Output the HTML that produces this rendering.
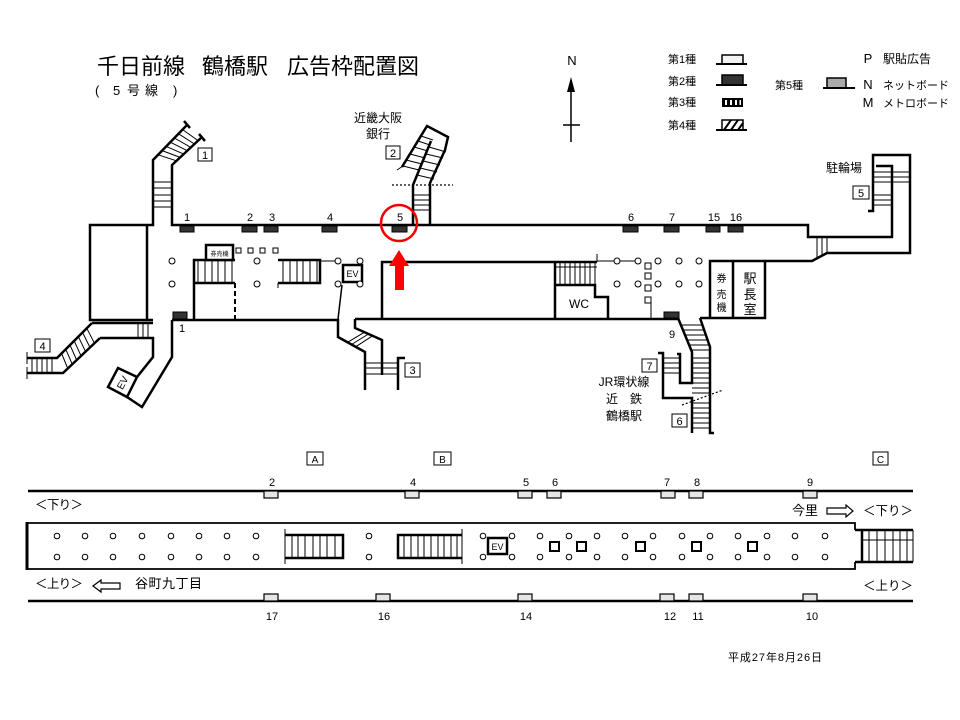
<!DOCTYPE html>
<html><head><meta charset="utf-8"><style>
html,body{margin:0;padding:0;background:#fff;}
svg{display:block;}
text{font-family:"Liberation Sans","Noto Sans CJK JP",sans-serif;fill:#000;}
.w{stroke:#000;stroke-width:2.5;fill:none;}
.t{stroke:#000;stroke-width:1;fill:none;}
.c{stroke:#000;stroke-width:1;fill:#fff;}
.bx{stroke:#000;stroke-width:1;fill:#fff;}
.ad{fill:#333;stroke:#000;stroke-width:1;}
.la{fill:#e6e6e6;stroke:#000;stroke-width:1.2;}
</style></head><body>
<svg width="960" height="720" viewBox="0 0 960 720" xmlns="http://www.w3.org/2000/svg">
<!-- Title -->
<text x="97" y="74" font-size="22">千日前線</text>
<text x="202" y="74" font-size="22">鶴橋駅</text>
<text x="287" y="74" font-size="22">広告枠配置図</text>
<text x="95" y="95" font-size="13">(</text>
<text x="113" y="95" font-size="13">5</text>
<text x="127" y="95" font-size="13">号</text>
<text x="145" y="95" font-size="13">線</text>
<text x="173" y="95" font-size="13">)</text>

<!-- North arrow -->
<text x="572" y="65" font-size="13" text-anchor="middle">N</text>
<line x1="571" y1="88" x2="571" y2="142" stroke="#000" stroke-width="1.5"/>
<polygon points="571,77 567,92 575,92" fill="#000"/>
<line x1="563" y1="125" x2="580" y2="125" stroke="#000" stroke-width="1.5"/>

<!-- Legend -->
<text x="668" y="63" font-size="11">第1種</text>
<rect x="722" y="55" width="21" height="9" fill="#f2f2f2" stroke="#000" stroke-width="1.5"/>
<line x1="716" y1="64" x2="747" y2="64" stroke="#000" stroke-width="2"/>
<text x="668" y="85" font-size="11">第2種</text>
<rect x="722" y="75" width="21" height="10" fill="#333" stroke="#000" stroke-width="1.5"/>
<line x1="716" y1="85" x2="747" y2="85" stroke="#000" stroke-width="2"/>
<text x="668" y="106" font-size="11">第3種</text>
<rect x="722" y="98" width="21" height="9" fill="#000"/>
<rect x="725" y="100" width="2" height="5" fill="#fff"/>
<rect x="730" y="100" width="2" height="5" fill="#fff"/>
<rect x="735" y="100" width="2" height="5" fill="#fff"/>
<rect x="739.5" y="100" width="1.5" height="5" fill="#fff"/>
<text x="668" y="129" font-size="11">第4種</text>
<rect x="722" y="120" width="21" height="10" fill="#fff" stroke="#000" stroke-width="1.5"/>
<path d="M724,130 L731,120 M731,130 L738,120 M738,130 L743,123" stroke="#000" stroke-width="2"/>
<line x1="716" y1="130" x2="747" y2="130" stroke="#000" stroke-width="2"/>
<text x="775" y="89" font-size="11">第5種</text>
<rect x="827" y="78" width="19" height="10" fill="#aaa" stroke="#000" stroke-width="1.5"/>
<line x1="823" y1="88" x2="855" y2="88" stroke="#000" stroke-width="2"/>
<text x="868" y="63" font-size="13" text-anchor="middle">P</text>
<text x="883" y="63" font-size="12">駅貼広告</text>
<text x="868" y="89" font-size="13" text-anchor="middle">N</text>
<text x="883" y="89" font-size="11">ネットボード</text>
<text x="868" y="107" font-size="13" text-anchor="middle">M</text>
<text x="883" y="107" font-size="11">メトロボード</text>

<!-- Concourse walls -->
<path class="w" d="M187,125 L153,160 V225 H90 V320 H153"/>
<path class="w" d="M147,225 V320"/>
<path class="w" d="M92,323 H153"/>
<path class="w" d="M202,137 L172,165 V225 H808 V237 H892 V166 H876"/>
<path class="w" d="M868,211 H873 V155 H910 V253 H827 L812,261 H710 V318"/>
<path class="w" d="M184,121 L190,128 M199,134 L205,141"/>
<!-- stair 1 rungs -->
<path class="t" d="M158.1,154.8 L176.5,160.8 M162.2,150.6 L180.1,157.4 M166.3,146.4 L183.7,154.1 M170.3,142.2 L187.3,150.7 M174.4,138 L190.9,147.4 M178.5,133.8 L194.5,144 M182.6,129.6 L198.1,140.6"/>
<path class="t" d="M153,182 H172 M153,188 H172 M153,195 H172 M153,201 H172 M153,207 H172"/>

<!-- stair 4 -->
<path class="w" d="M92,323 L57,358 H27"/>
<path class="w" d="M100,338 H153 V357 L137,377"/>
<path class="w" d="M100,338 L63,373 H27"/>
<path class="t" d="M27,352 V364 M27,367 V379" stroke-width="1.5"/>
<path class="t" d="M86.8,328.3 L94.5,343.3 M82.6,332.5 L90,347.5 M78.4,336.7 L85.6,351.7 M74.2,340.9 L81.1,355.9 M70,345.1 L76.7,360.1 M65.8,349.3 L72.3,364.3 M61.6,353.5 L67.8,368.5"/>
<path class="t" d="M32,358 V373 M37,358 V373 M42,358 V373 M47,358 V373 M52,358 V373"/>
<path class="t" d="M138,323 V338 M143,323 V338 M148,323 V338"/>
<rect class="bx" x="35" y="339" width="15" height="13"/>
<text x="42.5" y="350" font-size="11" text-anchor="middle">4</text>

<!-- EV corridor -->
<path class="w" d="M172,320 V357 L142,407 L127,397"/>
<polygon points="118,368 137,377 127,397 108,387" fill="#fff" stroke="#000" stroke-width="2.5"/>
<text x="123" y="386" font-size="10" text-anchor="middle" transform="rotate(-62 123 383)">EV</text>

<!-- bottom wall & stair 3 -->
<path class="w" d="M172,320 H338 V337 L365,352 V390"/>
<path class="w" d="M355,319 V328 L382,340 V375"/>
<path class="w" d="M398,390 V358 H405"/>
<path class="t" d="M347.5,342.3 L364.5,332.2 M351.5,344.5 L368.5,334 M355.6,346.8 L372.6,335.8"/>
<path class="t" d="M365,363 H398 M365,368 H398 M365,374 H398"/>
<rect class="bx" x="405" y="363" width="15" height="14"/>
<text x="412.5" y="374" font-size="11" text-anchor="middle">3</text>

<!-- central block -->
<path class="w" d="M355,319 H678"/>
<path class="w" d="M382,319 V262 H597"/>
<path class="w" d="M555,262 V318"/>
<path class="w" d="M555,285 H595 V297 H608 V318"/>
<path class="t" d="M555,267 H597"/>
<path class="t" d="M560,262 V285 M565,262 V285 M570,262 V285 M575,262 V285 M580,262 V285 M585,262 V285 M590,262 V285 M595,262 V285"/>
<path class="t" d="M597,254 V262 M597,261 H640" stroke="#555" stroke-width="1.2"/>
<text x="579" y="308" font-size="12" text-anchor="middle">WC</text>

<!-- right boxes -->
<path class="w" d="M700,318 H765 V261"/>
<path class="w" d="M733,261 V318"/>
<text x="721.5" y="282" font-size="10" text-anchor="middle">券</text>
<text x="721.5" y="298" font-size="10" text-anchor="middle">売</text>
<text x="721.5" y="311" font-size="10" text-anchor="middle">機</text>
<text x="750" y="283" font-size="13" text-anchor="middle">駅</text>
<text x="750" y="299" font-size="13" text-anchor="middle">長</text>
<text x="750" y="314" font-size="13" text-anchor="middle">室</text>

<!-- stair 9 / 7 / 6 -->
<path class="w" d="M678,318 L692,352 V383 H680 V354 H677"/>
<path class="w" d="M700,318 L710,347 V433 H714"/>
<path class="w" d="M658,353 H663 V398 H692 V433"/>
<path class="t" d="M680.9,325 H702.4 M682.9,330 H704.1 M685,335 H705.9 M687.1,340 H707.6 M689.1,345 H709.3 M691.2,350 H710"/>
<path class="t" d="M692,358 H710 M692,363 H710 M692,368 H710 M692,373 H710 M692,378 H710 M692,383 H710 M692,388 H710 M692,393 H710"/>
<path class="t" d="M692,403 H710 M692,408 H710 M692,413 H710 M692,418 H710 M692,423 H710 M692,428 H710"/>
<path class="t" d="M663,358 H680 M663,363 H680 M663,368 H680 M663,373 H680"/>
<line x1="682" y1="405" x2="723" y2="390" stroke="#000" stroke-width="1.2" stroke-dasharray="2,2"/>
<rect class="bx" x="642" y="359" width="15" height="13"/>
<text x="649.5" y="370" font-size="11" text-anchor="middle">7</text>
<rect class="bx" x="672" y="414" width="15" height="13"/>
<text x="679.5" y="425" font-size="11" text-anchor="middle">6</text>
<text x="624" y="386" font-size="12" text-anchor="middle">JR環状線</text>
<text x="624" y="403" font-size="12" text-anchor="middle">近　鉄</text>
<text x="624" y="420" font-size="12" text-anchor="middle">鶴橋駅</text>

<!-- stair 5 (駐輪場) -->
<path class="t" d="M873,172 H910 M873,177 H910 M873,182 H910"/>
<path class="t" d="M873,195 H892 M873,200 H892 M873,205 H892"/>
<path class="t" d="M817,237 V257 M822,237 V256 M827,237 V253"/>
<text x="844" y="172" font-size="12" text-anchor="middle">駐輪場</text>
<rect class="bx" x="853" y="186" width="16" height="13"/>
<text x="861" y="197" font-size="11" text-anchor="middle">5</text>

<!-- stair 2 -->
<path class="w" d="M413,225 V185 L431,141"/>
<path class="w" d="M430,225 V183 L445,150 L448,137 L427,126 L402,167"/>
<path class="t" d="M397,170 L403,166"/>
<path class="t" d="M421,136 L433,140 M418,141 L430,145 M414,147 L428,151 M410,154 L425,158 M406,160 L422,164 M403,166 L419,170"/>
<path class="t" d="M429,147 L446,152 M426,154 L443,158 M423,161 L440,165 M420,168 L437,172 M417,175 L434,179"/>
<path class="t" d="M413,195 H430 M413,200 H430 M413,205 H430 M413,210 H430"/>
<line x1="392" y1="185" x2="453" y2="185" stroke="#000" stroke-width="1.2" stroke-dasharray="2,2"/>
<text x="378" y="122" font-size="12" text-anchor="middle">近畿大阪</text>
<text x="378" y="138" font-size="12" text-anchor="middle">銀行</text>
<rect class="bx" x="386" y="146" width="14" height="13"/>
<text x="393" y="157" font-size="11" text-anchor="middle">2</text>
<rect class="bx" x="198" y="148" width="14" height="13"/>
<text x="205" y="159" font-size="11" text-anchor="middle">1</text>

<!-- inner left area -->
<path class="w" d="M194,319 V260 H235 M194,283 H235"/>
<line x1="235" y1="283" x2="235" y2="319" stroke="#000" stroke-width="2" stroke-dasharray="5,3"/>
<path class="t" d="M198,260 V283 M205,260 V283 M212,260 V283 M218,260 V283 M225,260 V283 M232,260 V283"/>
<rect x="206" y="245" width="27" height="15" fill="#fff" stroke="#000" stroke-width="2.5"/>
<text x="219.5" y="256" font-size="6" text-anchor="middle">券売機</text>
<rect class="bx" x="236" y="248" width="5" height="5"/>
<rect class="bx" x="248" y="248" width="5" height="5"/>
<rect class="bx" x="260" y="248" width="5" height="5"/>
<rect class="bx" x="273" y="248" width="5" height="5"/>
<path class="w" d="M278,260 H320 V283 H278"/>
<path class="t" d="M278,283 V288 M283,260 V283 M290,260 V283 M297,260 V283 M303,260 V283 M310,260 V283 M317,260 V283"/>
<line x1="320" y1="261" x2="338" y2="261" stroke="#000" stroke-width="1"/>
<rect x="343" y="265" width="19" height="17" fill="#fff" stroke="#000" stroke-width="2.5"/>
<text x="352.5" y="277" font-size="9" text-anchor="middle">EV</text>
<line x1="342" y1="285" x2="338" y2="319" stroke="#000" stroke-width="1.5"/>
<g class="c">
<circle cx="172" cy="261" r="3"/><circle cx="172" cy="284" r="3"/>
<circle cx="257" cy="261" r="3"/><circle cx="257" cy="284" r="3"/>
<circle cx="338" cy="261" r="3"/><circle cx="360" cy="261" r="3"/>
<circle cx="338" cy="284" r="3"/><circle cx="360" cy="284" r="3"/>
<circle cx="617" cy="261" r="3"/><circle cx="638" cy="261" r="3"/><circle cx="658" cy="261" r="3"/><circle cx="679" cy="261" r="3"/><circle cx="699" cy="261" r="3"/>
<circle cx="617" cy="284" r="3"/><circle cx="638" cy="284" r="3"/><circle cx="658" cy="284" r="3"/><circle cx="679" cy="284" r="3"/><circle cx="699" cy="284" r="3"/>
</g>
<rect class="bx" x="645" y="263" width="6" height="6"/>
<rect class="bx" x="645" y="273" width="6" height="6"/>
<rect class="bx" x="645" y="285" width="6" height="6"/>
<rect class="bx" x="645" y="297" width="6" height="6"/>
<line x1="651" y1="303" x2="651" y2="318" stroke="#000" stroke-width="1"/>

<!-- ads concourse -->
<rect class="ad" x="180" y="226" width="14" height="6"/>
<rect class="ad" x="242" y="226" width="15" height="6"/>
<rect class="ad" x="264" y="226" width="14" height="6"/>
<rect class="ad" x="322" y="226" width="15" height="6"/>
<rect class="ad" x="392" y="226" width="15" height="6"/>
<rect class="ad" x="623" y="226" width="15" height="6"/>
<rect class="ad" x="664" y="226" width="15" height="6"/>
<rect class="ad" x="706" y="226" width="14" height="6"/>
<rect class="ad" x="728" y="226" width="15" height="6"/>
<rect class="ad" x="173" y="312" width="14" height="7"/>
<rect class="ad" x="664" y="312" width="15" height="6"/>
<g font-size="11" text-anchor="middle">
<text x="187" y="221">1</text><text x="250" y="221">2</text><text x="272" y="221">3</text>
<text x="330" y="221">4</text><text x="400" y="221">5</text><text x="631" y="221">6</text>
<text x="672" y="221">7</text><text x="714" y="221">15</text><text x="736" y="221">16</text>
<text x="182" y="332">1</text><text x="672" y="338" fill="#444">9</text>
</g>

<!-- red marker -->
<circle cx="399" cy="223" r="18" fill="none" stroke="#e00" stroke-width="2.5"/>
<polygon points="399,250 389,266 395,266 395,290 404,290 404,266 409,266" fill="#f00"/>

<!-- Platform -->
<rect class="bx" x="307" y="452" width="16" height="13"/>
<text x="315" y="463" font-size="10" text-anchor="middle">A</text>
<rect class="bx" x="434" y="452" width="17" height="13"/>
<text x="442.5" y="463" font-size="10" text-anchor="middle">B</text>
<rect class="bx" x="873" y="452" width="15" height="13"/>
<text x="880.5" y="463" font-size="10" text-anchor="middle">C</text>

<line x1="28" y1="491" x2="913" y2="491" stroke="#000" stroke-width="2.5"/>
<line x1="28" y1="601" x2="913" y2="601" stroke="#000" stroke-width="2.5"/>
<g>
<rect class="la" x="264" y="491" width="14" height="7"/>
<rect class="la" x="405" y="491" width="14" height="7"/>
<rect class="la" x="518" y="491" width="14" height="7"/>
<rect class="la" x="547" y="491" width="14" height="7"/>
<rect class="la" x="661" y="491" width="14" height="7"/>
<rect class="la" x="689" y="491" width="14" height="7"/>
<rect class="la" x="803" y="491" width="14" height="7"/>
<rect class="la" x="264" y="594" width="14" height="7"/>
<rect class="la" x="376" y="594" width="14" height="7"/>
<rect class="la" x="518" y="594" width="14" height="7"/>
<rect class="la" x="660" y="594" width="14" height="7"/>
<rect class="la" x="689" y="594" width="14" height="7"/>
<rect class="la" x="803" y="594" width="14" height="7"/>
</g>
<g font-size="11" text-anchor="middle">
<text x="272" y="486">2</text><text x="413" y="486">4</text><text x="526" y="486">5</text>
<text x="555" y="486">6</text><text x="667" y="486">7</text><text x="697" y="486">8</text>
<text x="810" y="486">9</text>
<text x="272" y="620">17</text><text x="384" y="620">16</text><text x="526" y="620">14</text>
<text x="670" y="620">12</text><text x="698" y="620">11</text><text x="812" y="620">10</text>
</g>

<path d="M27,523 H855 V530 M27,569 H855 V562" stroke="#000" stroke-width="1.8" fill="none"/>
<line x1="27" y1="522" x2="27" y2="570" stroke="#000" stroke-width="3"/>
<path class="w" d="M855,530 H913 M855,562 H913 M862,530 V562"/>
<path class="t" d="M913,530 V562 M862,540 H913 M869,530 V562 M877,530 V562 M885,530 V562 M893,530 V562 M900,530 V562 M907,530 V562"/>

<!-- platform stairs -->
<path class="t" d="M285,529 V564" stroke-width="1.5"/>
<path class="w" d="M285,535 H343 V558 H285"/>
<path class="t" d="M292,535 V558 M298,535 V558 M305,535 V558 M313,535 V558 M320,535 V558 M327,535 V558 M335,535 V558"/>
<path class="t" d="M462,529 V564" stroke-width="1.5"/>
<path class="w" d="M462,535 H398 V558 H462"/>
<path class="t" d="M404,535 V558 M411,535 V558 M418,535 V558 M424,535 V558 M431,535 V558 M438,535 V558 M444,535 V558 M451,535 V558 M457,535 V558"/>
<rect x="488" y="538" width="19" height="16" fill="#fff" stroke="#000" stroke-width="2.5"/>
<text x="497.5" y="550" font-size="9" text-anchor="middle">EV</text>
<g fill="#fff" stroke="#000" stroke-width="2">
<rect x="550" y="542" width="9" height="9"/><rect x="577" y="542" width="9" height="9"/>
<rect x="636" y="542" width="9" height="9"/><rect x="692" y="542" width="9" height="9"/>
<rect x="748" y="542" width="9" height="9"/>
</g>
<g class="c">
<circle cx="57" cy="536" r="2.8"/><circle cx="85" cy="536" r="2.8"/><circle cx="113" cy="536" r="2.8"/><circle cx="142" cy="536" r="2.8"/><circle cx="171" cy="536" r="2.8"/><circle cx="199" cy="536" r="2.8"/><circle cx="227" cy="536" r="2.8"/><circle cx="256" cy="536" r="2.8"/><circle cx="369" cy="536" r="2.8"/>
<circle cx="57" cy="557" r="2.8"/><circle cx="85" cy="557" r="2.8"/><circle cx="113" cy="557" r="2.8"/><circle cx="142" cy="557" r="2.8"/><circle cx="171" cy="557" r="2.8"/><circle cx="199" cy="557" r="2.8"/><circle cx="227" cy="557" r="2.8"/><circle cx="256" cy="557" r="2.8"/><circle cx="369" cy="557" r="2.8"/>
<circle cx="483" cy="536" r="2.8"/><circle cx="512" cy="536" r="2.8"/><circle cx="483" cy="557" r="2.8"/><circle cx="512" cy="557" r="2.8"/>
<circle cx="540" cy="536" r="2.8"/><circle cx="569" cy="536" r="2.8"/><circle cx="597" cy="536" r="2.8"/><circle cx="625" cy="536" r="2.8"/><circle cx="653" cy="536" r="2.8"/><circle cx="682" cy="536" r="2.8"/><circle cx="710" cy="536" r="2.8"/><circle cx="738" cy="536" r="2.8"/><circle cx="767" cy="536" r="2.8"/><circle cx="795" cy="536" r="2.8"/><circle cx="825" cy="536" r="2.8"/>
<circle cx="540" cy="557" r="2.8"/><circle cx="569" cy="557" r="2.8"/><circle cx="597" cy="557" r="2.8"/><circle cx="625" cy="557" r="2.8"/><circle cx="653" cy="557" r="2.8"/><circle cx="682" cy="557" r="2.8"/><circle cx="710" cy="557" r="2.8"/><circle cx="738" cy="557" r="2.8"/><circle cx="767" cy="557" r="2.8"/><circle cx="795" cy="557" r="2.8"/><circle cx="825" cy="557" r="2.8"/>
</g>

<!-- platform labels -->
<text x="35" y="509" font-size="12.5" textLength="48">＜下り＞</text>
<text x="35" y="588" font-size="12.5" textLength="48">＜上り＞</text>
<polygon points="93,586 101,580 101,583 120,583 120,589 101,589 101,592" fill="#fff" stroke="#000" stroke-width="1.2"/>
<text x="135" y="588" font-size="13" textLength="67">谷町九丁目</text>
<text x="792" y="515" font-size="13">今里</text>
<polygon points="827,508 846,508 846,505 853,511 846,517 846,514 827,514" fill="#fff" stroke="#000" stroke-width="1.2"/>
<text x="863" y="515" font-size="12.5" textLength="50">＜下り＞</text>
<text x="863" y="590" font-size="12.5" textLength="50">＜上り＞</text>

<text x="728" y="661" font-size="11" textLength="94">平成27年8月26日</text>
</svg>
</body></html>
